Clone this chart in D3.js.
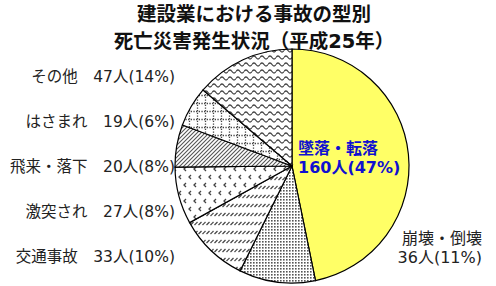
<!DOCTYPE html>
<html>
<head>
<meta charset="utf-8">
<script src="https://cdn.jsdelivr.net/npm/d3@7"></script>
<style>
  body { margin: 0; background: #fff; }
  svg text { font-family: "DejaVu Sans", "Noto Sans CJK JP", sans-serif; }
</style>
</head>
<body>
<script>
// data
const categories = ["墜落・転落", "崩壊・倒壊", "交通事故", "激突され", "飛来・落下", "はさまれ", "その他"];
const deaths = [160, 36, 33, 27, 20, 19, 47];
const percents = [47, 11, 10, 8, 8, 6, 14];
const patterns = ["yellow", "dots", "dashes", "chevron", "hatch", "grid", "wave"];
const titleLines = ["建設業における事故の型別", "死亡災害発生状況（平成25年）"];

const W = 496, H = 286;
const cx = 292, cy = 166, R = 117;

const svg = d3.select("body").append("svg")
    .attr("width", W)
    .attr("height", H);

const defs = svg.append("defs");

// fill patterns
function pat(id, w, h) {
    return defs.append("pattern").attr("id", id)
        .attr("patternUnits", "userSpaceOnUse")
        .attr("width", w).attr("height", h);
}
let p;
p = pat("dots", 3, 3);
p.append("rect").attr("width", 3).attr("height", 3).attr("fill", "#fff");
p.append("rect").attr("width", 1.6).attr("height", 1.6).attr("fill", "#555");

p = pat("dashes", 8, 9);
p.append("rect").attr("width", 8).attr("height", 9).attr("fill", "#fff");
[0, 4, 8].forEach(x => p.append("line")
    .attr("x1", x - 1.5).attr("y1", 5).attr("x2", x + 1.5).attr("y2", 2)
    .attr("stroke", "#444").attr("stroke-width", 1.2));

p = pat("chevron", 10, 16);
p.append("rect").attr("width", 10).attr("height", 16).attr("fill", "#fff");
[[2, 3], [7, 11]].forEach(([x, y]) => p.append("path")
    .attr("d", `M${x + 2},${y - 2}L${x},${y}L${x + 2},${y + 2}`)
    .attr("fill", "none").attr("stroke", "#444").attr("stroke-width", 1.3));

p = pat("hatch", 4, 4);
p.append("rect").attr("width", 4).attr("height", 4).attr("fill", "#fff");
p.append("path").attr("d", "M-1,1L1,-1M0,4L4,0M3,5L5,3")
    .attr("stroke", "#555").attr("stroke-width", 1.1);

p = pat("grid", 8, 8);
p.append("rect").attr("width", 8).attr("height", 8).attr("fill", "#fff");
p.append("path").attr("d", "M0,1.5H8M1.5,0V8")
    .attr("stroke", "#444").attr("stroke-width", 1.3)
    .attr("stroke-dasharray", "1.3,1.4");

p = pat("wave", 8, 7);
p.append("rect").attr("width", 8).attr("height", 7).attr("fill", "#fff");
p.append("path")
    .attr("d", "M0,3.5C1.3,1.5 2.7,1.5 4,3.5S6.7,5.5 8,3.5")
    .attr("fill", "none").attr("stroke", "#444").attr("stroke-width", 1.3);

const fillOf = k => k === "yellow" ? "#ffff66" : `url(#${k})`;

// pie
const slices = categories.map((c, i) => ({ name: c, value: deaths[i], pct: percents[i], pat: patterns[i] }));
const pie = d3.pie().sort(null).value(d => d.value);
const arc = d3.arc().innerRadius(0).outerRadius(R);

const g = svg.append("g").attr("transform", `translate(${cx},${cy})`);
g.selectAll("path.slice")
    .data(pie(slices))
    .join("path")
    .attr("class", "slice")
    .attr("d", arc)
    .attr("fill", d => fillOf(d.data.pat))
    .attr("stroke", "#000")
    .attr("stroke-width", 1.2);

// title
svg.append("g").selectAll("text")
    .data(titleLines)
    .join("text")
    .attr("x", 254)
    .attr("y", (d, i) => 21 + i * 27)
    .attr("text-anchor", "middle")
    .attr("font-size", 19.5)
    .attr("font-weight", "bold")
    .attr("fill", "#111")
    .text(d => d);

// left labels
const leftNames = ["その他", "はさまれ", "飛来・落下", "激突され", "交通事故"];
const yLeft = d3.scalePoint().domain(leftNames).range([77, 257]);
svg.append("g").selectAll("text")
    .data(slices.filter(d => leftNames.includes(d.name)))
    .join("text")
    .attr("x", 175)
    .attr("y", d => yLeft(d.name))
    .attr("dy", "0.35em")
    .attr("text-anchor", "end")
    .attr("font-size", 15.5)
    .attr("fill", "#222")
    .text(d => `${d.name}\u3000${d.value}人(${d.pct}%)`);

// big slice label
const main = slices[0];
const mainG = svg.append("g").attr("fill", "#1010d0").attr("font-weight", "bold").attr("font-size", 16);
mainG.append("text").attr("x", 298).attr("y", 148).attr("dy", "0.35em").text(main.name);
mainG.append("text").attr("x", 298).attr("y", 167).attr("dy", "0.35em").text(`${main.value}人(${main.pct}%)`);

// 崩壊・倒壊 label
const col = slices[1];
const colG = svg.append("g").attr("fill", "#222").attr("font-size", 16).attr("text-anchor", "end");
colG.append("text").attr("x", 482).attr("y", 238).attr("dy", "0.35em").text(col.name);
colG.append("text").attr("x", 482).attr("y", 257).attr("dy", "0.35em").text(`${col.value}人(${col.pct}%)`);
</script>
</body>
</html>
